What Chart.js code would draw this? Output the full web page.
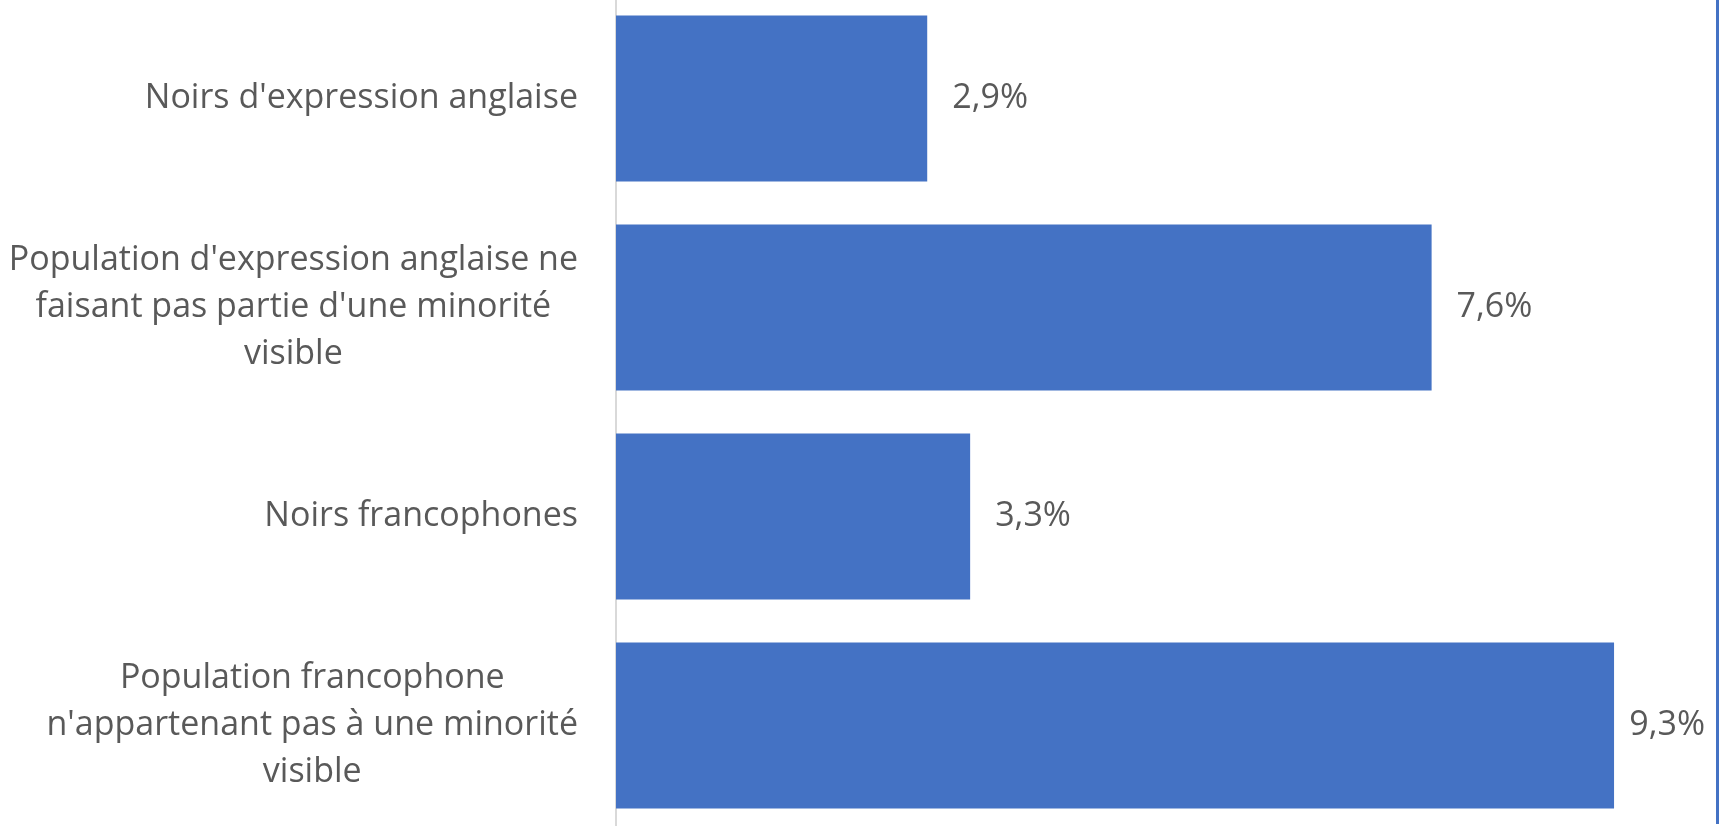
<!DOCTYPE html>
<html>
<head>
<meta charset="utf-8">
<script src="https://cdn.jsdelivr.net/npm/chart.js@4.4.0/dist/chart.umd.min.js"></script>
<style>
  html, body { margin: 0; padding: 0; background: #fff; overflow: hidden; }
  #wrap { position: absolute; left: 0; top: -6px; width: 1725px; height: 836px; }
  #edge { position: absolute; left: 1716px; top: 0; width: 3px; height: 824px; background: #4472c4; }
</style>
</head>
<body>
<div id="wrap"><canvas id="chart"></canvas></div>
<div id="edge"></div>
<script>
const categories = [
  ["Noirs d'expression anglaise"],
  ["Population d'expression anglaise ne", "faisant pas partie d'une minorité", "visible"],
  ["Noirs francophones"],
  ["Population francophone", "n'appartenant pas à une minorité", "visible"]
];
const values = [2.9, 7.6, 3.3, 9.3];

const FONT = '34px "Open Sans"';
const TEXT_COLOR = "#595959";

function fmt(v) {
  return v.toFixed(1).replace(".", ",") + "%";
}

// étiquettes des catégories et des valeurs, dessinées à la main
const labelPlugin = {
  id: "labels",
  afterDatasetsDraw(chart) {
    const ctx = chart.ctx;
    const yScale = chart.scales.y;
    const meta = chart.getDatasetMeta(0);
    ctx.save();
    ctx.font = FONT;
    ctx.fillStyle = TEXT_COLOR;
    ctx.textBaseline = "middle";

    meta.data.forEach((bar, i) => {
      const txt = fmt(values[i]);
      const w = ctx.measureText(txt).width;
      let x = bar.x + 25;
      if (x + w > chart.chartArea.right - 11) x = chart.chartArea.right - 11 - w;
      ctx.textAlign = "left";
      ctx.fillText(txt, x, bar.y);
    });

    const lineH = 47;
    categories.forEach((lines, i) => {
      const y = yScale.getPixelForValue(i);
      const maxW = Math.max(...lines.map(l => ctx.measureText(l).width));
      const cx = yScale.right - 38 - maxW / 2;
      const y0 = y - (lines.length - 1) * lineH / 2;
      ctx.textAlign = "center";
      lines.forEach((l, j) => ctx.fillText(l, cx, y0 + j * lineH));
    });
    ctx.restore();
  }
};

const data = {
  labels: categories.map(c => c.join(" ")),
  datasets: [
    {
      data: values,
      backgroundColor: "#4472c4",
      borderWidth: 0,
      barPercentage: 1,
      categoryPercentage: 0.795,
    },
  ],
};

const config = {
  type: "bar",
  data: data,
  options: {
    indexAxis: "y",
    responsive: true,
    maintainAspectRatio: false,
    animation: false,
    layout: { padding: { left: 0, right: 9, top: 0, bottom: 0 } },
    plugins: {
      legend: { display: false },
      tooltip: { enabled: false },
    },
    scales: {
      x: {
        min: 0,
        max: 10.25,
        display: false,
      },
      y: {
        grid: { display: false, drawTicks: false },
        border: { display: true, color: "#d9d9d9", width: 2 },
        ticks: { display: false },
        afterFit(scale) { scale.width = 616; },
      },
    },
  },
  plugins: [labelPlugin],
};

const chart = new Chart(document.getElementById("chart"), config);
</script>
</body>
</html>
